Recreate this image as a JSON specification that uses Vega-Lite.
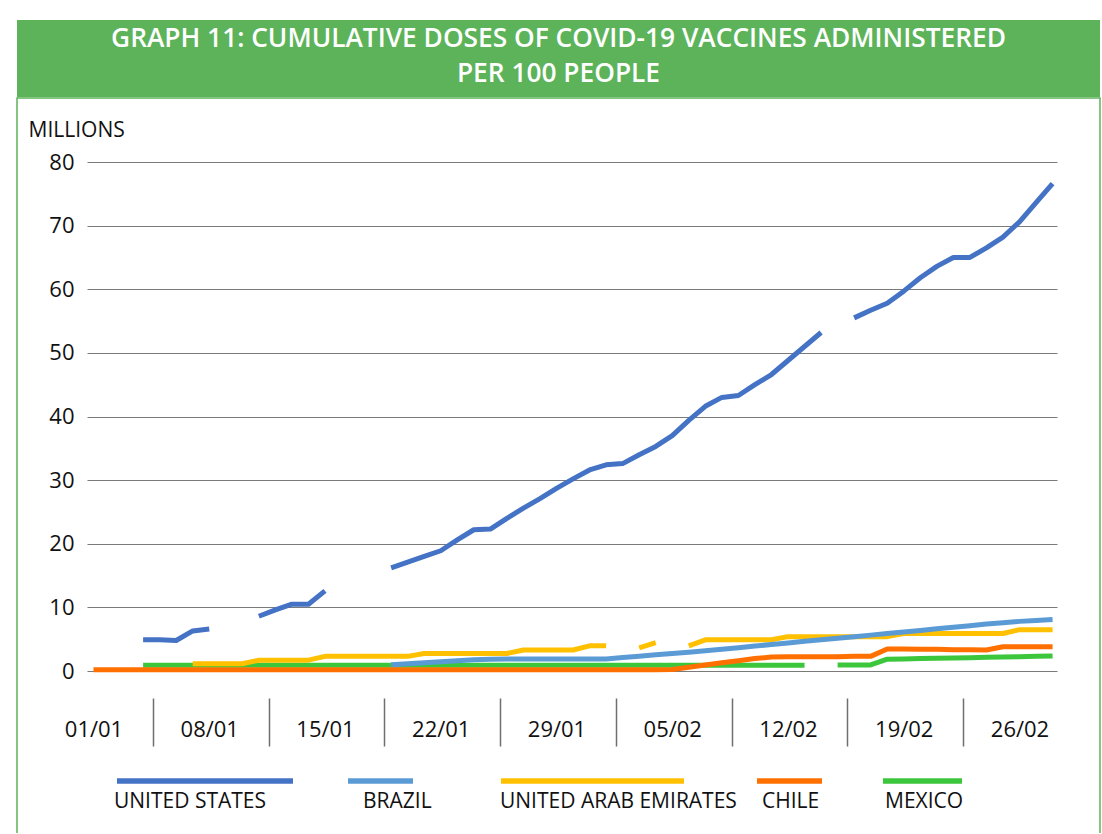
{
  "$schema": "https://vega.github.io/schema/vega-lite/v6.json",
  "background": "white",
  "padding": {"left": 16, "top": 20, "right": 0, "bottom": -4},
  "spacing": 0,
  "vconcat": [
    {
      "width": 1083,
      "height": 77,
      "view": {"fill": "#5CB35A", "stroke": null},
      "data": {"values": [{"title": "GRAPH 11: CUMULATIVE DOSES OF COVID-19 VACCINES ADMINISTERED\nPER 100 PEOPLE"}]},
      "mark": {"type": "text", "lineBreak": "\n", "color": "white", "font": "Open Sans", "fontSize": 26.3, "fontWeight": 600, "lineHeight": 35, "align": "center", "baseline": "middle", "dy": -20},
      "encoding": {"text": {"field": "title", "type": "nominal"}}
    },
    {
      "width": 1083,
      "height": 738,
      "view": {"fill": "white", "stroke": "#5CB35A", "strokeWidth": 1.5},
      "data": {"values": [
        {"date":"2021-01-04","country":"MEXICO","value":0.9},{"date":"2021-01-05","country":"MEXICO","value":0.9},{"date":"2021-01-06","country":"MEXICO","value":0.9},{"date":"2021-01-07","country":"MEXICO","value":0.9},{"date":"2021-01-08","country":"MEXICO","value":0.9},{"date":"2021-01-09","country":"MEXICO","value":0.9},{"date":"2021-01-10","country":"MEXICO","value":0.9},{"date":"2021-01-11","country":"MEXICO","value":0.9},{"date":"2021-01-12","country":"MEXICO","value":0.9},{"date":"2021-01-13","country":"MEXICO","value":0.9},{"date":"2021-01-14","country":"MEXICO","value":0.9},{"date":"2021-01-15","country":"MEXICO","value":0.9},{"date":"2021-01-16","country":"MEXICO","value":0.9},{"date":"2021-01-17","country":"MEXICO","value":0.9},{"date":"2021-01-18","country":"MEXICO","value":0.9},{"date":"2021-01-19","country":"MEXICO","value":0.9},{"date":"2021-01-20","country":"MEXICO","value":0.9},{"date":"2021-01-21","country":"MEXICO","value":0.9},{"date":"2021-01-22","country":"MEXICO","value":0.9},{"date":"2021-01-23","country":"MEXICO","value":0.9},{"date":"2021-01-24","country":"MEXICO","value":0.9},{"date":"2021-01-25","country":"MEXICO","value":0.9},{"date":"2021-01-26","country":"MEXICO","value":0.9},{"date":"2021-01-27","country":"MEXICO","value":0.9},{"date":"2021-01-28","country":"MEXICO","value":0.9},{"date":"2021-01-29","country":"MEXICO","value":0.9},{"date":"2021-01-30","country":"MEXICO","value":0.9},{"date":"2021-01-31","country":"MEXICO","value":0.9},{"date":"2021-02-01","country":"MEXICO","value":0.9},{"date":"2021-02-02","country":"MEXICO","value":0.9},{"date":"2021-02-03","country":"MEXICO","value":0.9},{"date":"2021-02-04","country":"MEXICO","value":0.9},{"date":"2021-02-05","country":"MEXICO","value":0.9},{"date":"2021-02-06","country":"MEXICO","value":0.9},{"date":"2021-02-07","country":"MEXICO","value":0.9},{"date":"2021-02-08","country":"MEXICO","value":0.9},{"date":"2021-02-09","country":"MEXICO","value":0.9},{"date":"2021-02-10","country":"MEXICO","value":0.9},{"date":"2021-02-11","country":"MEXICO","value":0.9},{"date":"2021-02-12","country":"MEXICO","value":0.9},{"date":"2021-02-13","country":"MEXICO","value":0.9},{"date":"2021-02-14","country":"MEXICO","value":null},{"date":"2021-02-15","country":"MEXICO","value":0.95},{"date":"2021-02-16","country":"MEXICO","value":0.95},{"date":"2021-02-17","country":"MEXICO","value":0.95},{"date":"2021-02-18","country":"MEXICO","value":1.85},{"date":"2021-02-19","country":"MEXICO","value":1.9},{"date":"2021-02-20","country":"MEXICO","value":1.95},{"date":"2021-02-21","country":"MEXICO","value":2.0},{"date":"2021-02-22","country":"MEXICO","value":2.05},{"date":"2021-02-23","country":"MEXICO","value":2.1},{"date":"2021-02-24","country":"MEXICO","value":2.15},{"date":"2021-02-25","country":"MEXICO","value":2.2},{"date":"2021-02-26","country":"MEXICO","value":2.25},{"date":"2021-02-27","country":"MEXICO","value":2.3},{"date":"2021-02-28","country":"MEXICO","value":2.35},

        {"date":"2021-01-07","country":"UNITED ARAB EMIRATES","value":1.15},{"date":"2021-01-08","country":"UNITED ARAB EMIRATES","value":1.15},{"date":"2021-01-09","country":"UNITED ARAB EMIRATES","value":1.15},{"date":"2021-01-10","country":"UNITED ARAB EMIRATES","value":1.15},{"date":"2021-01-11","country":"UNITED ARAB EMIRATES","value":1.7},{"date":"2021-01-12","country":"UNITED ARAB EMIRATES","value":1.7},{"date":"2021-01-13","country":"UNITED ARAB EMIRATES","value":1.7},{"date":"2021-01-14","country":"UNITED ARAB EMIRATES","value":1.7},{"date":"2021-01-15","country":"UNITED ARAB EMIRATES","value":2.3},{"date":"2021-01-16","country":"UNITED ARAB EMIRATES","value":2.3},{"date":"2021-01-17","country":"UNITED ARAB EMIRATES","value":2.3},{"date":"2021-01-18","country":"UNITED ARAB EMIRATES","value":2.3},{"date":"2021-01-19","country":"UNITED ARAB EMIRATES","value":2.3},{"date":"2021-01-20","country":"UNITED ARAB EMIRATES","value":2.3},{"date":"2021-01-21","country":"UNITED ARAB EMIRATES","value":2.75},{"date":"2021-01-22","country":"UNITED ARAB EMIRATES","value":2.75},{"date":"2021-01-23","country":"UNITED ARAB EMIRATES","value":2.75},{"date":"2021-01-24","country":"UNITED ARAB EMIRATES","value":2.75},{"date":"2021-01-25","country":"UNITED ARAB EMIRATES","value":2.75},{"date":"2021-01-26","country":"UNITED ARAB EMIRATES","value":2.75},{"date":"2021-01-27","country":"UNITED ARAB EMIRATES","value":3.3},{"date":"2021-01-28","country":"UNITED ARAB EMIRATES","value":3.3},{"date":"2021-01-29","country":"UNITED ARAB EMIRATES","value":3.3},{"date":"2021-01-30","country":"UNITED ARAB EMIRATES","value":3.3},{"date":"2021-01-31","country":"UNITED ARAB EMIRATES","value":3.95},{"date":"2021-02-01","country":"UNITED ARAB EMIRATES","value":3.95},{"date":"2021-02-02","country":"UNITED ARAB EMIRATES","value":null},{"date":"2021-02-03","country":"UNITED ARAB EMIRATES","value":3.65},{"date":"2021-02-04","country":"UNITED ARAB EMIRATES","value":4.45},{"date":"2021-02-05","country":"UNITED ARAB EMIRATES","value":null},{"date":"2021-02-06","country":"UNITED ARAB EMIRATES","value":3.95},{"date":"2021-02-07","country":"UNITED ARAB EMIRATES","value":4.9},{"date":"2021-02-08","country":"UNITED ARAB EMIRATES","value":4.9},{"date":"2021-02-09","country":"UNITED ARAB EMIRATES","value":4.9},{"date":"2021-02-10","country":"UNITED ARAB EMIRATES","value":4.9},{"date":"2021-02-11","country":"UNITED ARAB EMIRATES","value":4.9},{"date":"2021-02-12","country":"UNITED ARAB EMIRATES","value":5.4},{"date":"2021-02-13","country":"UNITED ARAB EMIRATES","value":5.4},{"date":"2021-02-14","country":"UNITED ARAB EMIRATES","value":5.4},{"date":"2021-02-15","country":"UNITED ARAB EMIRATES","value":5.4},{"date":"2021-02-16","country":"UNITED ARAB EMIRATES","value":5.4},{"date":"2021-02-17","country":"UNITED ARAB EMIRATES","value":5.4},{"date":"2021-02-18","country":"UNITED ARAB EMIRATES","value":5.4},{"date":"2021-02-19","country":"UNITED ARAB EMIRATES","value":5.9},{"date":"2021-02-20","country":"UNITED ARAB EMIRATES","value":5.9},{"date":"2021-02-21","country":"UNITED ARAB EMIRATES","value":5.9},{"date":"2021-02-22","country":"UNITED ARAB EMIRATES","value":5.9},{"date":"2021-02-23","country":"UNITED ARAB EMIRATES","value":5.9},{"date":"2021-02-24","country":"UNITED ARAB EMIRATES","value":5.9},{"date":"2021-02-25","country":"UNITED ARAB EMIRATES","value":5.9},{"date":"2021-02-26","country":"UNITED ARAB EMIRATES","value":6.5},{"date":"2021-02-27","country":"UNITED ARAB EMIRATES","value":6.5},{"date":"2021-02-28","country":"UNITED ARAB EMIRATES","value":6.5},

        {"date":"2021-01-04","country":"UNITED STATES","value":4.9},{"date":"2021-01-05","country":"UNITED STATES","value":4.9},{"date":"2021-01-06","country":"UNITED STATES","value":4.8},{"date":"2021-01-07","country":"UNITED STATES","value":6.3},{"date":"2021-01-08","country":"UNITED STATES","value":6.6},{"date":"2021-01-09","country":"UNITED STATES","value":null},{"date":"2021-01-10","country":"UNITED STATES","value":null},{"date":"2021-01-11","country":"UNITED STATES","value":8.6},{"date":"2021-01-12","country":"UNITED STATES","value":9.6},{"date":"2021-01-13","country":"UNITED STATES","value":10.5},{"date":"2021-01-14","country":"UNITED STATES","value":10.5},{"date":"2021-01-15","country":"UNITED STATES","value":12.6},{"date":"2021-01-16","country":"UNITED STATES","value":null},{"date":"2021-01-17","country":"UNITED STATES","value":null},{"date":"2021-01-18","country":"UNITED STATES","value":null},{"date":"2021-01-19","country":"UNITED STATES","value":16.2},{"date":"2021-01-20","country":"UNITED STATES","value":17.1},{"date":"2021-01-21","country":"UNITED STATES","value":18.0},{"date":"2021-01-22","country":"UNITED STATES","value":18.9},{"date":"2021-01-23","country":"UNITED STATES","value":20.6},{"date":"2021-01-24","country":"UNITED STATES","value":22.2},{"date":"2021-01-25","country":"UNITED STATES","value":22.3},{"date":"2021-01-26","country":"UNITED STATES","value":24.0},{"date":"2021-01-27","country":"UNITED STATES","value":25.6},{"date":"2021-01-28","country":"UNITED STATES","value":27.1},{"date":"2021-01-29","country":"UNITED STATES","value":28.7},{"date":"2021-01-30","country":"UNITED STATES","value":30.2},{"date":"2021-01-31","country":"UNITED STATES","value":31.6},{"date":"2021-02-01","country":"UNITED STATES","value":32.4},{"date":"2021-02-02","country":"UNITED STATES","value":32.6},{"date":"2021-02-03","country":"UNITED STATES","value":34.0},{"date":"2021-02-04","country":"UNITED STATES","value":35.3},{"date":"2021-02-05","country":"UNITED STATES","value":37.0},{"date":"2021-02-06","country":"UNITED STATES","value":39.4},{"date":"2021-02-07","country":"UNITED STATES","value":41.6},{"date":"2021-02-08","country":"UNITED STATES","value":43.0},{"date":"2021-02-09","country":"UNITED STATES","value":43.3},{"date":"2021-02-10","country":"UNITED STATES","value":45.0},{"date":"2021-02-11","country":"UNITED STATES","value":46.6},{"date":"2021-02-12","country":"UNITED STATES","value":48.8},{"date":"2021-02-13","country":"UNITED STATES","value":51.0},{"date":"2021-02-14","country":"UNITED STATES","value":53.2},{"date":"2021-02-15","country":"UNITED STATES","value":null},{"date":"2021-02-16","country":"UNITED STATES","value":55.5},{"date":"2021-02-17","country":"UNITED STATES","value":56.7},{"date":"2021-02-18","country":"UNITED STATES","value":57.8},{"date":"2021-02-19","country":"UNITED STATES","value":59.7},{"date":"2021-02-20","country":"UNITED STATES","value":61.8},{"date":"2021-02-21","country":"UNITED STATES","value":63.6},{"date":"2021-02-22","country":"UNITED STATES","value":65.0},{"date":"2021-02-23","country":"UNITED STATES","value":65.0},{"date":"2021-02-24","country":"UNITED STATES","value":66.5},{"date":"2021-02-25","country":"UNITED STATES","value":68.2},{"date":"2021-02-26","country":"UNITED STATES","value":70.6},{"date":"2021-02-27","country":"UNITED STATES","value":73.6},{"date":"2021-02-28","country":"UNITED STATES","value":76.6},

        {"date":"2021-01-19","country":"BRAZIL","value":1.0},{"date":"2021-01-20","country":"BRAZIL","value":1.15},{"date":"2021-01-21","country":"BRAZIL","value":1.3},{"date":"2021-01-22","country":"BRAZIL","value":1.45},{"date":"2021-01-23","country":"BRAZIL","value":1.6},{"date":"2021-01-24","country":"BRAZIL","value":1.75},{"date":"2021-01-25","country":"BRAZIL","value":1.85},{"date":"2021-01-26","country":"BRAZIL","value":1.9},{"date":"2021-01-27","country":"BRAZIL","value":1.9},{"date":"2021-01-28","country":"BRAZIL","value":1.9},{"date":"2021-01-29","country":"BRAZIL","value":1.9},{"date":"2021-01-30","country":"BRAZIL","value":1.9},{"date":"2021-01-31","country":"BRAZIL","value":1.9},{"date":"2021-02-01","country":"BRAZIL","value":1.9},{"date":"2021-02-02","country":"BRAZIL","value":2.11},{"date":"2021-02-03","country":"BRAZIL","value":2.32},{"date":"2021-02-04","country":"BRAZIL","value":2.54},{"date":"2021-02-05","country":"BRAZIL","value":2.75},{"date":"2021-02-06","country":"BRAZIL","value":2.96},{"date":"2021-02-07","country":"BRAZIL","value":3.17},{"date":"2021-02-08","country":"BRAZIL","value":3.43},{"date":"2021-02-09","country":"BRAZIL","value":3.67},{"date":"2021-02-10","country":"BRAZIL","value":3.92},{"date":"2021-02-11","country":"BRAZIL","value":4.17},{"date":"2021-02-12","country":"BRAZIL","value":4.41},{"date":"2021-02-13","country":"BRAZIL","value":4.66},{"date":"2021-02-14","country":"BRAZIL","value":4.9},{"date":"2021-02-15","country":"BRAZIL","value":5.15},{"date":"2021-02-16","country":"BRAZIL","value":5.39},{"date":"2021-02-17","country":"BRAZIL","value":5.64},{"date":"2021-02-18","country":"BRAZIL","value":5.89},{"date":"2021-02-19","country":"BRAZIL","value":6.14},{"date":"2021-02-20","country":"BRAZIL","value":6.38},{"date":"2021-02-21","country":"BRAZIL","value":6.63},{"date":"2021-02-22","country":"BRAZIL","value":6.87},{"date":"2021-02-23","country":"BRAZIL","value":7.12},{"date":"2021-02-24","country":"BRAZIL","value":7.37},{"date":"2021-02-25","country":"BRAZIL","value":7.6},{"date":"2021-02-26","country":"BRAZIL","value":7.8},{"date":"2021-02-27","country":"BRAZIL","value":7.95},{"date":"2021-02-28","country":"BRAZIL","value":8.1},

        {"date":"2021-01-01","country":"CHILE","value":0.2},{"date":"2021-01-02","country":"CHILE","value":0.2},{"date":"2021-01-03","country":"CHILE","value":0.2},{"date":"2021-01-04","country":"CHILE","value":0.2},{"date":"2021-01-05","country":"CHILE","value":0.2},{"date":"2021-01-06","country":"CHILE","value":0.2},{"date":"2021-01-07","country":"CHILE","value":0.2},{"date":"2021-01-08","country":"CHILE","value":0.2},{"date":"2021-01-09","country":"CHILE","value":0.2},{"date":"2021-01-10","country":"CHILE","value":0.2},{"date":"2021-01-11","country":"CHILE","value":0.2},{"date":"2021-01-12","country":"CHILE","value":0.2},{"date":"2021-01-13","country":"CHILE","value":0.2},{"date":"2021-01-14","country":"CHILE","value":0.2},{"date":"2021-01-15","country":"CHILE","value":0.2},{"date":"2021-01-16","country":"CHILE","value":0.2},{"date":"2021-01-17","country":"CHILE","value":0.2},{"date":"2021-01-18","country":"CHILE","value":0.2},{"date":"2021-01-19","country":"CHILE","value":0.2},{"date":"2021-01-20","country":"CHILE","value":0.2},{"date":"2021-01-21","country":"CHILE","value":0.2},{"date":"2021-01-22","country":"CHILE","value":0.2},{"date":"2021-01-23","country":"CHILE","value":0.2},{"date":"2021-01-24","country":"CHILE","value":0.2},{"date":"2021-01-25","country":"CHILE","value":0.2},{"date":"2021-01-26","country":"CHILE","value":0.2},{"date":"2021-01-27","country":"CHILE","value":0.2},{"date":"2021-01-28","country":"CHILE","value":0.2},{"date":"2021-01-29","country":"CHILE","value":0.2},{"date":"2021-01-30","country":"CHILE","value":0.2},{"date":"2021-01-31","country":"CHILE","value":0.2},{"date":"2021-02-01","country":"CHILE","value":0.2},{"date":"2021-02-02","country":"CHILE","value":0.2},{"date":"2021-02-03","country":"CHILE","value":0.2},{"date":"2021-02-04","country":"CHILE","value":0.2},{"date":"2021-02-05","country":"CHILE","value":0.25},{"date":"2021-02-06","country":"CHILE","value":0.6},{"date":"2021-02-07","country":"CHILE","value":0.95},{"date":"2021-02-08","country":"CHILE","value":1.3},{"date":"2021-02-09","country":"CHILE","value":1.6},{"date":"2021-02-10","country":"CHILE","value":1.95},{"date":"2021-02-11","country":"CHILE","value":2.2},{"date":"2021-02-12","country":"CHILE","value":2.25},{"date":"2021-02-13","country":"CHILE","value":2.25},{"date":"2021-02-14","country":"CHILE","value":2.25},{"date":"2021-02-15","country":"CHILE","value":2.25},{"date":"2021-02-16","country":"CHILE","value":2.3},{"date":"2021-02-17","country":"CHILE","value":2.3},{"date":"2021-02-18","country":"CHILE","value":3.45},{"date":"2021-02-19","country":"CHILE","value":3.45},{"date":"2021-02-20","country":"CHILE","value":3.4},{"date":"2021-02-21","country":"CHILE","value":3.4},{"date":"2021-02-22","country":"CHILE","value":3.35},{"date":"2021-02-23","country":"CHILE","value":3.35},{"date":"2021-02-24","country":"CHILE","value":3.3},{"date":"2021-02-25","country":"CHILE","value":3.8},{"date":"2021-02-26","country":"CHILE","value":3.8},{"date":"2021-02-27","country":"CHILE","value":3.8},{"date":"2021-02-28","country":"CHILE","value":3.8}
      ]},
      "encoding": {
        "x": {
          "field": "date", "type": "temporal",
          "scale": {"type": "utc",
            "domain": [{"year": 2020, "month": 12, "date": 31, "hours": 14, "minutes": 34, "utc": true}, {"year": 2021, "month": 2, "date": 28, "hours": 6, "minutes": 25, "utc": true}],
            "range": [70, 1040]},
          "axis": {
            "orient": "bottom", "offset": -138, "domain": false, "grid": false, "title": null,
            "values": [
              {"year": 2021, "month": 1, "date": 1, "utc": true},
              {"year": 2021, "month": 1, "date": 4, "hours": 14, "utc": true},
              {"year": 2021, "month": 1, "date": 8, "utc": true},
              {"year": 2021, "month": 1, "date": 11, "hours": 14, "utc": true},
              {"year": 2021, "month": 1, "date": 15, "utc": true},
              {"year": 2021, "month": 1, "date": 18, "hours": 14, "utc": true},
              {"year": 2021, "month": 1, "date": 22, "utc": true},
              {"year": 2021, "month": 1, "date": 25, "hours": 14, "utc": true},
              {"year": 2021, "month": 1, "date": 29, "utc": true},
              {"year": 2021, "month": 2, "date": 1, "hours": 14, "utc": true},
              {"year": 2021, "month": 2, "date": 5, "utc": true},
              {"year": 2021, "month": 2, "date": 8, "hours": 14, "utc": true},
              {"year": 2021, "month": 2, "date": 12, "utc": true},
              {"year": 2021, "month": 2, "date": 15, "hours": 14, "utc": true},
              {"year": 2021, "month": 2, "date": 19, "utc": true},
              {"year": 2021, "month": 2, "date": 22, "hours": 14, "utc": true},
              {"year": 2021, "month": 2, "date": 26, "utc": true}
            ],
            "labelExpr": "utchours(datum.value) == 0 ? utcFormat(datum.value, '%d/%m') : ''",
            "ticks": true, "tickSize": 48, "tickColor": "#6f6f6f", "tickWidth": 1.5,
            "tickOpacity": {"condition": {"test": "utchours(datum.value) != 0", "value": 1}, "value": 0},
            "labelFont": "Open Sans", "labelFontSize": 22, "labelColor": "#111111",
            "labelBaseline": "middle", "labelPadding": -17, "labelOverlap": false, "labelFlush": false, "labelBound": false
          }
        },
        "y": {
          "field": "value", "type": "quantitative",
          "scale": {"domain": [0, 80], "range": [573, 64], "nice": false},
          "axis": {
            "orient": "left", "offset": -70, "domain": false, "ticks": false, "tickSize": 0,
            "values": [0, 10, 20, 30, 40, 50, 60, 70, 80],
            "grid": true, "gridColor": "#7a7a7a", "gridWidth": 1.2,
            "labelFont": "Open Sans", "labelFontSize": 22, "labelColor": "#111111", "labelPadding": 13,
            "title": "MILLIONS", "titleAngle": 0, "titleAlign": "left", "titleBaseline": "middle",
            "titleX": -59, "titleY": 32, "titleFont": "Open Sans", "titleFontSize": 21,
            "titleFontWeight": "normal", "titleColor": "#111111"
          }
        },
        "color": {
          "field": "country", "type": "nominal",
          "scale": {"domain": ["UNITED STATES", "BRAZIL", "UNITED ARAB EMIRATES", "CHILE", "MEXICO"],
                    "range": ["#4472C4", "#5B9BD5", "#FFC000", "#FF7000", "#3CC63C"]},
          "legend": {
            "orient": "none", "legendX": 97, "legendY": 751, "direction": "horizontal",
            "title": null, "padding": 0, "columnPadding": 9,
            "symbolType": "stroke", "symbolStrokeWidth": 5.5,
            "labelFont": "Open Sans", "labelFontSize": 21, "labelColor": "#111111", "labelLimit": 400,
            "encode": {
              "symbols": {"update": {
                "size": {"signal": "datum.value === 'UNITED STATES' ? 30976 : datum.value === 'BRAZIL' ? 4225 : datum.value === 'UNITED ARAB EMIRATES' ? 33489 : datum.value === 'CHILE' ? 4225 : 6241"},
                "x": {"signal": "datum.value === 'UNITED STATES' ? 91 : datum.value === 'BRAZIL' ? 67.5 : datum.value === 'UNITED ARAB EMIRATES' ? 151.5 : datum.value === 'CHILE' ? 33.5 : 80.5"},
                "y": {"value": 10},
                "strokeWidth": {"value": 5.5}
              }},
              "labels": {"update": {
                "x": {"signal": "datum.value === 'BRAZIL' ? 50 : datum.value === 'UNITED ARAB EMIRATES' ? 59 : datum.value === 'CHILE' ? 6 : datum.value === 'MEXICO' ? 43 : 0"},
                "y": {"value": 31}
              }}
            }
          }
        }
      },
      "layer": [
        {"transform": [{"filter": "datum.country === 'MEXICO'"}], "mark": {"type": "line", "strokeWidth": 5, "strokeJoin": "round", "strokeCap": "butt", "invalid": "break-paths-show-domains"}},
        {"transform": [{"filter": "datum.country === 'UNITED ARAB EMIRATES'"}], "mark": {"type": "line", "strokeWidth": 5, "strokeJoin": "round", "strokeCap": "butt", "invalid": "break-paths-show-domains"}},
        {"transform": [{"filter": "datum.country === 'UNITED STATES'"}], "mark": {"type": "line", "strokeWidth": 5, "strokeJoin": "round", "strokeCap": "butt", "invalid": "break-paths-show-domains"}},
        {"transform": [{"filter": "datum.country === 'BRAZIL'"}], "mark": {"type": "line", "strokeWidth": 5, "strokeJoin": "round", "strokeCap": "butt", "invalid": "break-paths-show-domains"}},
        {"transform": [{"filter": "datum.country === 'CHILE'"}], "mark": {"type": "line", "strokeWidth": 5, "strokeJoin": "round", "strokeCap": "butt", "invalid": "break-paths-show-domains"}}
      ]
    }
  ]
}
